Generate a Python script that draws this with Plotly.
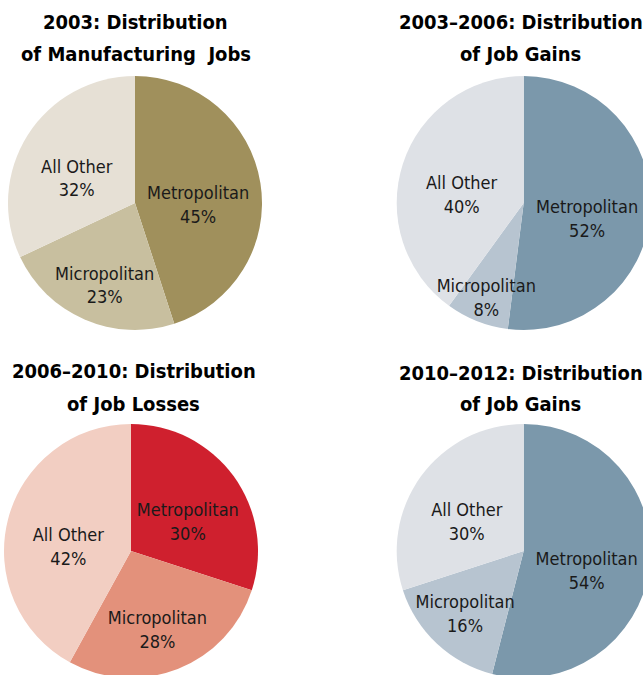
import plotly.graph_objects as go

# ---- data ----
categories = ["Metropolitan", "Micropolitan", "All Other"]
jobs_2003 = [45, 23, 32]
gains_2003_2006 = [52, 8, 40]
losses_2006_2010 = [30, 28, 42]
gains_2010_2012 = [54, 16, 30]

titles = [
    ["2003: Distribution", "of Manufacturing\u00a0 Jobs"],
    ["2003\u20132006: Distribution", "of Job Gains"],
    ["2006\u20132010: Distribution", "of Job Losses"],
    ["2010\u20132012: Distribution", "of Job Gains"],
]

tan_colors = ["#a0905c", "#c8bf9f", "#e6e0d5"]
blue_colors = ["#7b98ab", "#b7c4d0", "#dee1e6"]
red_colors = ["#cf202e", "#e3917b", "#f2cec2"]

# label templates: "low" variant adds an invisible first line to push the label down a bit
TPL = "%{label}<br>%{value}%"
TPL_LOW = "\u00a0<br>" + TPL

W, H = 660, 680  # slightly larger than window: right/bottom pies are cropped like the reference

def px_dom_x(l, r):
    return [l / W, r / W]

def px_dom_y(top, bottom):
    return [(H - bottom) / H, (H - top) / H]

pies = [
    (jobs_2003, tan_colors, px_dom_x(8, 262), px_dom_y(76, 330), [TPL_LOW, TPL_LOW, TPL_LOW]),
    (gains_2003_2006, blue_colors, px_dom_x(396.7, 650.7), px_dom_y(76, 330), [TPL_LOW, TPL, TPL_LOW]),
    (losses_2006_2010, red_colors, px_dom_x(4, 258), px_dom_y(424, 678), [TPL_LOW, TPL_LOW, TPL_LOW]),
    (gains_2010_2012, blue_colors, px_dom_x(396.7, 650.7), px_dom_y(424, 678), [TPL_LOW, TPL, TPL_LOW]),
]

LABEL_FONT = dict(family="DejaVu Sans Condensed", size=18, color="#1a1a1a")

fig = go.Figure()
# slices (no text)
for vals, cols, dx, dy, tpl in pies:
    fig.add_trace(go.Pie(
        labels=categories, values=vals, sort=False,
        direction="clockwise", rotation=0,
        marker=dict(colors=cols, line=dict(width=0)),
        textinfo="none", hoverinfo="skip",
        domain=dict(x=dx, y=dy), showlegend=False,
    ))
# text layer on top (transparent copies) so labels are never hidden by neighbouring slices
for vals, cols, dx, dy, tpl in pies:
    fig.add_trace(go.Pie(
        labels=categories, values=vals, sort=False,
        direction="clockwise", rotation=0,
        marker=dict(colors=["rgba(0,0,0,0)"] * len(vals), line=dict(width=0)),
        texttemplate=tpl,
        textposition="inside",
        insidetextorientation="horizontal",
        textfont=LABEL_FONT,
        hoverinfo="skip",
        domain=dict(x=dx, y=dy), showlegend=False,
    ))

title_pos = [
    (135.5, 22.5, 136, 54),
    (521, 22.5, 520.6, 54),
    (133.5, 371, 133, 404),
    (521, 372.5, 520.6, 404),
]
annotations = []
for (l1, l2), (x1, y1, x2, y2) in zip(titles, title_pos):
    for txt, x, y in ((l1, x1, y1), (l2, x2, y2)):
        annotations.append(dict(
            text=txt, x=x / W, y=(H - y) / H, xref="paper", yref="paper",
            xanchor="center", yanchor="middle", showarrow=False,
            font=dict(family="DejaVu Sans Condensed", size=20, color="#000000", weight="bold"),
        ))

fig.update_layout(
    width=W, height=H,
    margin=dict(l=0, r=0, t=0, b=0),
    paper_bgcolor="white",
    plot_bgcolor="white",
    uniformtext=dict(minsize=18, mode="show"),
    annotations=annotations,
)

fig.write_html(
    "out.html",
    post_script="document.documentElement.style.overflow='hidden';document.body.style.overflow='hidden';document.body.style.margin='0';",
)
